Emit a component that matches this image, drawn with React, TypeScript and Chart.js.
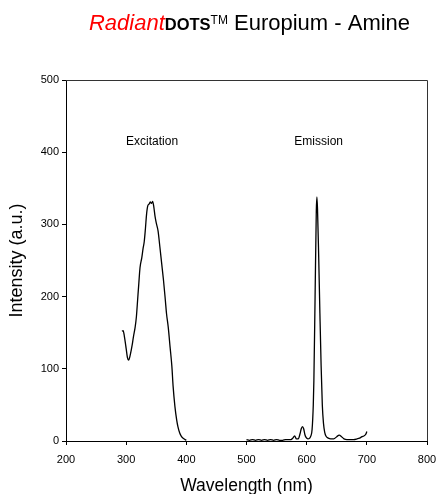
import React, { useEffect, useRef } from "react";
import { Chart, registerables } from "chart.js";

Chart.register(...registerables);

const excitationNm = [293, 295, 297, 300, 302, 304, 307, 310, 312, 315, 317, 319, 321, 323, 326, 328, 330, 332, 334, 336, 338, 340, 342, 344, 346, 348, 350, 353, 356, 359, 362, 365, 367, 370, 373, 376, 378, 381, 384, 386, 389, 392, 396, 400];
const excitationVal = [152, 153, 145, 128, 116, 112, 120, 133, 144, 158, 172, 195, 218, 240, 254, 266, 276, 294, 315, 326, 328, 331, 329, 332, 324, 311, 302, 291, 269, 246, 223, 196, 177, 157, 130, 103, 76, 48, 29, 20, 11, 6, 3, 1];

const emissionNm = [500, 505, 510, 515, 520, 525, 530, 535, 540, 545, 550, 555, 560, 565, 570, 574, 577, 580, 583, 586, 589, 591, 593, 595, 597, 599, 602, 605, 607, 609, 611, 612, 614, 616, 617, 618, 620, 622, 624, 626, 628, 630, 632, 636, 640, 645, 650, 654, 658, 662, 667, 672, 678, 684, 688, 692, 695, 698, 700];
const emissionVal = [2, 1, 2, 1, 2, 1, 2, 1, 2, 1, 2, 1, 1, 2, 2, 2, 4, 7, 3, 3, 10, 17, 20, 17, 9, 5, 3, 4, 7, 16, 50, 84, 200, 318, 338, 322, 255, 177, 105, 50, 24, 12, 7, 4, 3, 3, 6, 8, 6, 3, 2, 2, 2, 3, 4, 6, 7, 9, 13];

const xTicks = [200, 300, 400, 500, 600, 700, 800];
const yTicks = [0, 100, 200, 300, 400, 500];

const annotations = [
  { text: "Excitation", x: 343, y: 415 },
  { text: "Emission", x: 620, y: 415 },
];

const FONT = "'Liberation Sans', Arial, Helvetica, sans-serif";

const decorPlugin = {
  id: "decor",
  afterDraw(chart: any) {
    const { ctx, chartArea, scales } = chart;
    ctx.save();
    ctx.strokeStyle = "#333";
    ctx.lineWidth = 1;
    ctx.beginPath();
    ctx.moveTo(chartArea.left, chartArea.top + 0.5);
    ctx.lineTo(chartArea.right + 0.5, chartArea.top + 0.5);
    ctx.lineTo(chartArea.right + 0.5, chartArea.bottom);
    ctx.stroke();

    ctx.fillStyle = "#000";
    ctx.font = `12px ${FONT}`;
    ctx.textAlign = "center";
    ctx.textBaseline = "middle";
    for (const a of annotations) {
      ctx.fillText(a.text, scales.x.getPixelForValue(a.x), scales.y.getPixelForValue(a.y));
    }

    const parts = [
      { text: "Radiant", font: `italic 22px ${FONT}`, color: "#ff0000", dy: 0 },
      { text: "DOTS", font: `bold 16.5px ${FONT}`, color: "#000", dy: 0 },
      { text: "TM", font: `12px ${FONT}`, color: "#000", dy: -6 },
      { text: " Europium - Amine", font: `22px ${FONT}`, color: "#000", dy: 0 },
    ];
    let total = 0;
    const widths: number[] = [];
    for (const p of parts) {
      ctx.font = p.font;
      const w = ctx.measureText(p.text).width;
      widths.push(w);
      total += w;
    }
    let x = 249.5 - total / 2;
    ctx.textAlign = "left";
    ctx.textBaseline = "alphabetic";
    parts.forEach((p, i) => {
      ctx.font = p.font;
      ctx.fillStyle = p.color;
      ctx.fillText(p.text, x, 30 + p.dy);
      x += widths[i];
    });
    ctx.restore();
  },
};

export default function App() {
  const ref = useRef<HTMLCanvasElement>(null);
  useEffect(() => {
    const canvas = ref.current!;
    const toXY = (xs: number[], ys: number[]) => xs.map((x, i) => ({ x, y: ys[i] }));
    const chart = new Chart(canvas, {
      type: "line",
      data: {
        datasets: [
          {
            label: "Excitation",
            data: toXY(excitationNm, excitationVal),
            borderColor: "#000",
            borderWidth: 1.3,
            pointRadius: 0,
            cubicInterpolationMode: "monotone",
            fill: false,
          },
          {
            label: "Emission",
            data: toXY(emissionNm, emissionVal),
            borderColor: "#000",
            borderWidth: 1.3,
            pointRadius: 0,
            cubicInterpolationMode: "monotone",
            fill: false,
          },
        ],
      },
      options: {
        animation: false,
        responsive: false,
        maintainAspectRatio: false,
        layout: { padding: { top: 80, left: 0, right: 23, bottom: 0 } },
        plugins: { legend: { display: false }, tooltip: { enabled: false }, title: { display: false } },
        scales: {
          x: {
            type: "linear",
            min: 200,
            max: 800,
            afterBuildTicks: (s: any) => { s.ticks = xTicks.map((v) => ({ value: v })); },
            afterFit: (s: any) => { s.height = 56; },
            ticks: { color: "#000", font: { family: FONT, size: 11 }, padding: 8, maxRotation: 0 },
            grid: { display: true, drawOnChartArea: false, drawTicks: true, tickLength: 4, color: "#000" },
            border: { display: true, color: "#000", width: 1 },
            title: { display: true, text: "Wavelength (nm)", color: "#000", font: { family: FONT, size: 17.5 }, padding: { top: 0, bottom: 0 } },
          },
          y: {
            type: "linear",
            min: 0,
            max: 500,
            afterBuildTicks: (s: any) => { s.ticks = yTicks.map((v) => ({ value: v })); },
            afterFit: (s: any) => { s.width = 66; },
            ticks: { color: "#000", font: { family: FONT, size: 11 }, padding: 3 },
            grid: { display: true, drawOnChartArea: false, drawTicks: true, tickLength: 4, color: "#000" },
            border: { display: true, color: "#000", width: 1 },
            title: { display: true, text: "Intensity (a.u.)", color: "#000", font: { family: FONT, size: 18 }, padding: { top: 6, bottom: 0 } },
          },
        },
      },
      plugins: [decorPlugin],
    } as any);
    return () => chart.destroy();
  }, []);
  return (
    <div style={{ position: "fixed", left: 0, top: 0, width: 436, height: 494, overflow: "hidden", background: "#fff" }}>
      <canvas ref={ref} width={450} height={497} style={{ width: 450, height: 497, display: "block" }} />
    </div>
  );
}
